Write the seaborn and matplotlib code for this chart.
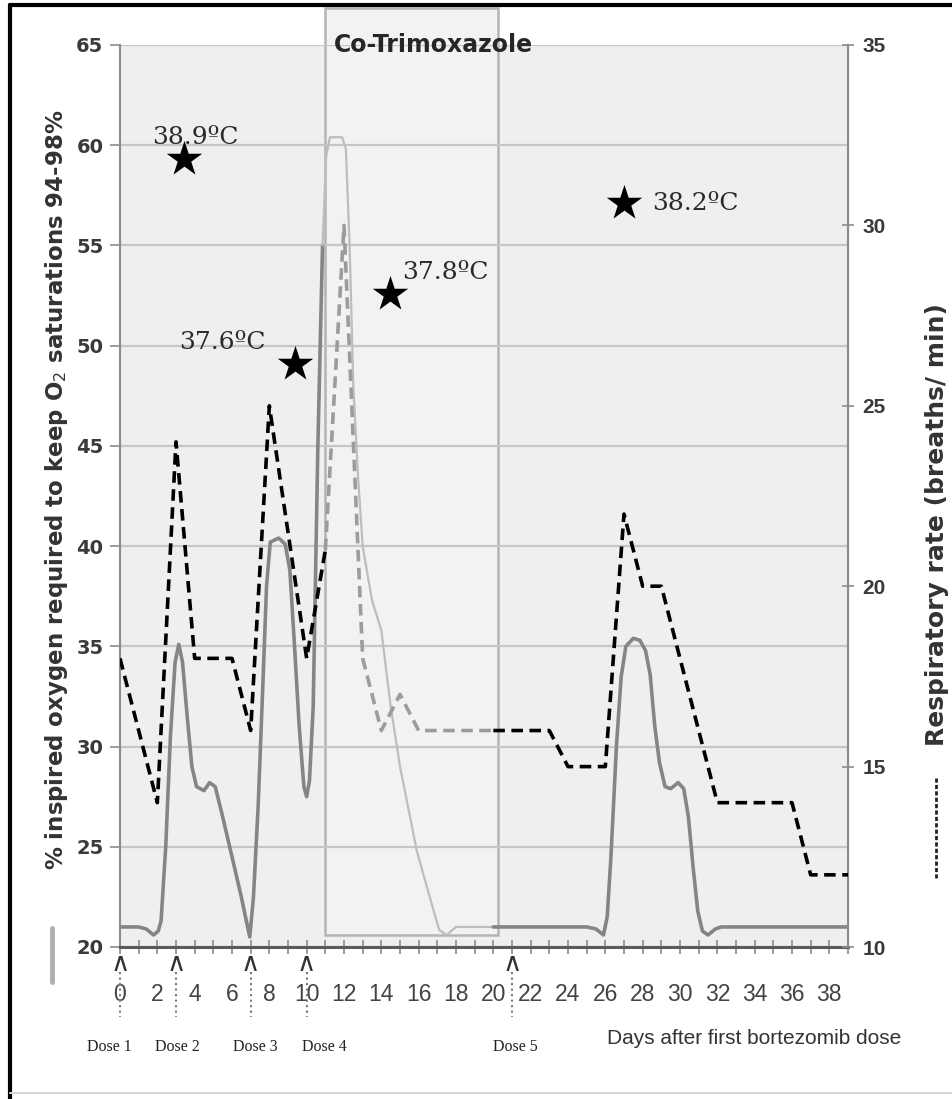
import matplotlib
matplotlib.use("Agg")
import matplotlib.pyplot as plt
import matplotlib.transforms as mtransforms
from matplotlib.patches import Rectangle
from matplotlib.lines import Line2D
import seaborn as sns
import pandas as pd

# % inspired oxygen (left axis)
o2_days = [0, 1.0, 1.4, 1.8, 2.05, 2.2, 2.45, 2.7, 2.95, 3.15, 3.35, 3.6, 3.85,
           4.1, 4.5, 4.8, 5.1, 5.5, 6.0, 6.5, 6.7, 6.95, 7.15, 7.4, 7.65, 7.85,
           8.05, 8.5, 8.85, 9.1, 9.35, 9.6, 9.85, 10.0, 10.15, 10.35, 10.6,
           10.85, 11.05, 11.25, 11.9, 12.1, 12.3, 12.5, 12.75, 13.0, 13.5,
           14.0, 14.5, 15.0, 15.9, 16.5, 17.1, 17.5, 18.0, 20.0, 25.0, 25.5,
           25.9, 26.1, 26.3, 26.6, 26.85, 27.1, 27.5, 27.85, 28.15, 28.4,
           28.65, 28.9, 29.2, 29.5, 29.9, 30.2, 30.45, 30.7, 30.95, 31.2,
           31.5, 31.9, 32.2, 39.0]
o2_vals = [21.0, 21.0, 20.9, 20.6, 20.8, 21.3, 25.0, 30.5, 34.2, 35.1, 34.2,
           31.5, 29.0, 28.0, 27.8, 28.2, 28.0, 26.5, 24.5, 22.5, 21.6, 20.5,
           22.5, 27.0, 33.0, 38.0, 40.2, 40.4, 40.1, 38.8, 35.0, 31.0, 28.0,
           27.5, 28.3, 32.0, 45.0, 55.0, 59.5, 60.4, 60.4, 59.8, 55.0, 48.0,
           43.5, 40.0, 37.3, 35.8, 32.0, 29.0, 24.8, 22.8, 20.85, 20.6, 21.0,
           21.0, 21.0, 20.9, 20.6, 21.5, 24.5, 30.1, 33.5, 35.0, 35.4, 35.3,
           34.8, 33.6, 31.0, 29.2, 28.0, 27.9, 28.2, 27.9, 26.5, 24.0, 21.8,
           20.8, 20.6, 20.9, 21.0, 21.0]

# respiratory rate (right axis), one value per day
rr_days = list(range(0, 40))
rr_vals = [18, 16, 14, 24, 18, 18, 18, 16, 25, 21.5, 18, 21, 30, 18, 16, 17,
           16, 16, 16, 16, 16, 16, 16, 16, 15, 15, 15, 22, 20, 20, 18, 16,
           14, 14, 14, 14, 14, 12, 12, 12]

# temperature spikes
temp_days = [3.45, 9.35, 14.45, 27.0]
temp_o2 = [59.3, 49.1, 52.6, 57.1]
temp_labels = ["38.9ºC", "37.6ºC", "37.8ºC", "38.2ºC"]

dose_days = [0, 3, 7, 10, 21]
dose_labels = ["Dose 1", "Dose 2", "Dose 3", "Dose 4", "Dose 5"]

cotrim_start, cotrim_end = 11.0, 20.25

sns.set_style("white")

W, H = 952, 1099
fig = plt.figure(figsize=(W / 100, H / 100), dpi=100)
ax = fig.add_axes([120 / W, 1 - 947 / H, (848 - 120) / W, (947 - 45) / H])
ax2 = ax.twinx()

ax.set_xlim(0, 39)
ax.set_ylim(20, 65)
ax2.set_ylim(10, 35)
ax.set_facecolor("#efefef")
ax2.patch.set_visible(False)

# grid
ax.set_yticks(range(20, 66, 5))
ax.yaxis.grid(True, color="#c6c6c6", lw=1.6)
ax.set_axisbelow(True)

# co-trimoxazole box
box = Rectangle((cotrim_start, 20.6), cotrim_end - cotrim_start, 66.85 - 20.6,
                facecolor="#f2f2f2", edgecolor="#b4b4b4", lw=1.8,
                clip_on=False, zorder=0.3)
ax.add_patch(box)
ax.text(cotrim_start + 0.45, 65, "Co-Trimoxazole", ha="left", va="center",
        fontsize=17, fontweight="bold", color="#262626", zorder=6)


def segment(days, vals, lo, hi):
    d = pd.DataFrame({"day": days, "val": vals})
    return d[(d.day >= lo) & (d.day <= hi)]


# oxygen line
for lo, hi, col, lw in [(0, 10.85, "#858585", 2.6), (10.85, 20, "#bdbdbd", 1.6),
                        (20, 39, "#858585", 2.6)]:
    s = segment(o2_days, o2_vals, lo, hi)
    sns.lineplot(data=s, x="day", y="val", ax=ax, color=col, lw=lw,
                 sort=False, estimator=None, zorder=3)
    ax.lines[-1].set_solid_joinstyle("round")

# respiratory rate line
for lo, hi, col in [(0, 11, "black"), (11, 20, "#9c9c9c"), (20, 39, "black")]:
    s = segment(rr_days, rr_vals, lo, hi)
    sns.lineplot(data=s, x="day", y="val", ax=ax2, color=col, lw=2.6,
                 linestyle="--", sort=False, estimator=None, zorder=4)
    ax2.lines[-1].set_dashes([3.2, 1.8])

# temperature stars
sns.scatterplot(x=temp_days, y=temp_o2, ax=ax, marker="*", s=720,
                color="black", edgecolor="black", linewidth=0, zorder=5)
offsets = [(-23, 16, "left"), (-21, 15, "right"), (9, 15, "left"), (20, 0, "left")]
for d, v, lab, (dx, dy, ha) in zip(temp_days, temp_o2, temp_labels, offsets):
    ax.annotate(lab, (d, v), xytext=(dx, dy), textcoords="offset points",
                ha=ha, va="center", fontsize=18, color="#2a2a2a",
                family=["DejaVu Serif"], zorder=6)

# axes styling
for a in (ax, ax2):
    a.spines["top"].set_visible(False)
    a.set_xlabel("")
    a.set_ylabel("")
ax.spines["left"].set_color("#8c8c8c")
ax.spines["left"].set_linewidth(1.5)
ax.spines["bottom"].set_color("#5a5a5a")
ax.spines["bottom"].set_linewidth(2.2)
ax2.spines["right"].set_color("#8c8c8c")
ax2.spines["right"].set_linewidth(1.5)
ax2.spines["left"].set_visible(False)
ax2.spines["bottom"].set_visible(False)

ax.tick_params(axis="y", direction="out", length=7, width=1.2, color="#8c8c8c",
               labelsize=14, labelcolor="#3a3a3a", pad=5, left=True)
for t in ax.get_yticklabels():
    t.set_fontweight("bold")

ax2.set_yticks(range(10, 36, 5))
ax2.tick_params(axis="y", direction="inout", length=9, width=1.2, color="#8c8c8c",
                labelsize=15, labelcolor="#3a3a3a", pad=6, right=True)
for t in ax2.get_yticklabels():
    t.set_fontweight("bold")
    t.set_family(["Liberation Sans", "DejaVu Sans"])

ax.set_xticks(range(0, 40))
ax.set_xticklabels([str(d) if d % 2 == 0 and d <= 38 else "" for d in range(40)])
ax.tick_params(axis="x", direction="inout", length=10, width=1.2, color="#8c8c8c",
               labelsize=16.5, labelcolor="#444444", pad=21, bottom=True)
for t in ax.get_xticklabels():
    t.set_family(["Liberation Sans", "DejaVu Sans"])

# dose markers below the axis
trans = mtransforms.blended_transform_factory(ax.transData, ax.transAxes)
label_shift = [-11, 1, 5, 18, 3]  # pixels
for d, lab, sh in zip(dose_days, dose_labels, label_shift):
    ax.text(d, -0.004, "∧", transform=trans, ha="center", va="top",
            fontsize=19, color="#333333")
    ax.plot([d, d], [-0.028, -0.078], transform=trans, ls=":", lw=1.5,
            color="#777777", clip_on=False)
    ax.annotate(lab, (d, -0.111), xycoords=trans, xytext=(sh * 0.72, 0),
                textcoords="offset points", ha="center", va="center",
                fontsize=11.5, color="#222222",
                family=["Liberation Serif", "DejaVu Serif"])

fig.text(607 / W, 1 - 1038 / H, "Days after first bortezomib dose", ha="left",
         va="center", fontsize=15, color="#333333",
         family=["Liberation Sans", "DejaVu Sans"])

# axis titles with legend samples
fig.text(57 / W, 1 - 490 / H,
         "% inspired oxygen required to keep O$_2$ saturations 94-98%",
         rotation=90, ha="center", va="center", fontsize=16.5, fontweight="bold",
         color="#333333")
fig.add_artist(Line2D([52 / W, 52 / W], [1 - 928 / H, 1 - 982 / H],
                      color="#b0b0b0", lw=3.5))
fig.text(937 / W, 1 - 525 / H, "Respiratory rate (breaths/ min)", rotation=90,
         ha="center", va="center", fontsize=18, fontweight="bold",
         color="#333333")
fig.add_artist(Line2D([936 / W, 936 / W], [1 - 778 / H, 1 - 880 / H],
                      color="#222222", lw=2, ls=(0, (1.5, 0.8))))

# picture frame
fig.add_artist(Line2D([10 / W, 10 / W], [0, 1 - 5 / H], color="black", lw=3))
fig.add_artist(Line2D([10 / W, 1], [1 - 5 / H, 1 - 5 / H], color="black", lw=3))
fig.add_artist(Line2D([10 / W, 1], [6 / H, 6 / H], color="#d8d8d8", lw=1.5))

fig.savefig("out.png", dpi=100)
